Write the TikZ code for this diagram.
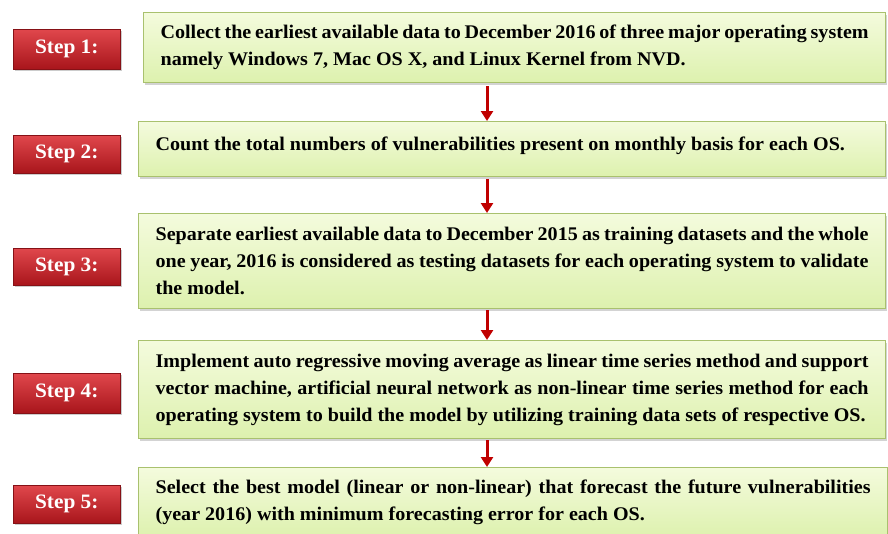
\documentclass[tikz,border=0pt]{standalone}
\usepackage{fontspec}
\setmainfont{Liberation Serif}
\newfontfamily\boxfont[FakeStretch=1.04]{Liberation Serif}
\usetikzlibrary{shadows,arrows.meta}
\definecolor{boxline}{HTML}{A9C16E}
\definecolor{boxtop}{HTML}{F4FBDD}
\definecolor{boxbot}{HTML}{DDF1AE}
\definecolor{redtop}{HTML}{E0474C}
\definecolor{redbot}{HTML}{A8151B}
\definecolor{arrowred}{HTML}{C00000}
\tikzset{
  greenbox/.style={draw=boxline, line width=1.2pt, top color=boxtop, bottom color=boxbot,
    drop shadow={shadow xshift=1.5pt, shadow yshift=-2.5pt, opacity=0.35},
    align=justify, inner xsep=17pt, inner ysep=4pt, anchor=north west,
    font=\boxfont\fontsize{19.3}{27}\selectfont\bfseries},
  stepbtn/.style={draw=redbot!80!black, line width=0.6pt, top color=redtop, bottom color=redbot,
    drop shadow={shadow xshift=1.5pt, shadow yshift=-2pt, opacity=0.4},
    minimum width=107pt, anchor=north west, text=white,
    font=\boxfont\fontsize{20.5}{20}\selectfont\bfseries},
  flowarrow/.style={draw=arrowred, line width=3pt, -{Triangle[width=12pt,length=10pt]}}
}
\begin{document}
\begin{tikzpicture}[x=1pt,y=-1pt]
\useasboundingbox (0,0) rectangle (888,533);
\clip (0,0) rectangle (888,533);
% green boxes
\node[greenbox, minimum width=742pt, minimum height=70pt, text width=708pt] (b1) at (143,12)
 {Collect the earliest available data to December 2016 of three major operating system\linebreak namely Windows 7, Mac OS X, and Linux Kernel from NVD.};
\node[greenbox, minimum width=747pt, minimum height=55pt, text width=713pt] (b2) at (138,121)
 {Count the total numbers of vulnerabilities present on monthly basis for each OS.\hfill\null\vspace{6pt}};
\node[greenbox, minimum width=747pt, minimum height=95pt, text width=713pt] (b3) at (138,213)
 {Separate earliest available data to December 2015 as training datasets and the whole\linebreak one year, 2016 is considered as testing datasets for each operating system to validate\linebreak the model.};
\node[greenbox, minimum width=747pt, minimum height=98pt, text width=713pt] (b4) at (138,340)
 {Implement auto regressive moving average as linear time series method and support\linebreak vector machine, artificial neural network as non-linear time series method for each\linebreak operating system to build the model by utilizing training data sets of respective OS.};
\node[greenbox, minimum width=749pt, minimum height=70pt, text width=715pt] (b5) at (138,467)
 {Select the best model (linear or non-linear) that forecast the future vulnerabilities\linebreak (year 2016) with minimum forecasting error for each OS.};
% step buttons
\node[stepbtn, minimum height=40pt] (s1) at (13,29) {Step 1:};
\node[stepbtn, minimum height=38pt] (s2) at (13,135) {Step 2:};
\node[stepbtn, minimum height=37pt] (s3) at (13,248) {Step 3:};
\node[stepbtn, minimum height=40pt] (s4) at (13,373) {Step 4:};
\node[stepbtn, minimum height=38pt] (s5) at (13,485) {Step 5:};
% arrows
\coordinate (ax) at (487,0);
\draw[flowarrow, shorten <=3pt] (b1.south -| ax) -- (b2.north -| ax);
\draw[flowarrow, shorten <=2pt] (b2.south -| ax) -- (b3.north -| ax);
\draw[flowarrow, shorten <=1pt] (b3.south -| ax) -- (b4.north -| ax);
\draw[flowarrow, shorten <=1pt] (b4.south -| ax) -- (b5.north -| ax);
\end{tikzpicture}
\end{document}
